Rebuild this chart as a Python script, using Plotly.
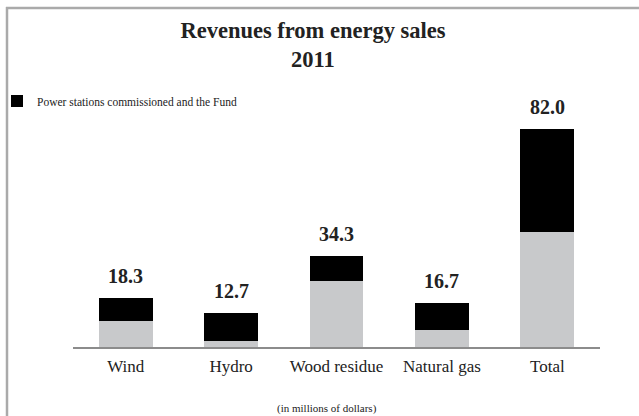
import plotly.graph_objects as go

categories = ["Wind", "Hydro", "Wood residue", "Natural gas", "Total"]
other_part = [9.8, 2.2, 24.7, 6.2, 43.3]
stations_fund = [8.5, 10.5, 9.6, 10.5, 38.7]
totals = [18.3, 12.7, 34.3, 16.7, 82.0]
total_labels = ["18.3", "12.7", "34.3", "16.7", "82.0"]

W, H = 639, 416
L, R, T, B = 73, 39, 100, 69
PW, PH = W - L - R, H - T - B
YMAX = 92.7

def px_x(p):
    return (p - L) / PW

def px_y(p):
    return (H - B - p) / PH

SERIF = "Liberation Serif"

fig = go.Figure()
fig.add_trace(go.Bar(
    x=categories, y=other_part, marker=dict(color="#c8c9cb", line=dict(width=0)),
    showlegend=False, name="Other", hoverinfo="skip"))
fig.add_trace(go.Bar(
    x=categories, y=stations_fund, marker=dict(color="#000000", line=dict(width=0)),
    name="Power stations commissioned and the Fund"))

for c, t, lab in zip(categories, totals, total_labels):
    fig.add_annotation(x=c, y=t, text="<b>" + lab + "</b>", showarrow=False,
                       yanchor="bottom", yshift=9,
                       font=dict(family=SERIF, size=20, color="#222222"))

fig.add_annotation(xref="paper", yref="paper", x=px_x(327), y=px_y(408),
                   text="(in millions of dollars)", showarrow=False,
                   xanchor="center", yanchor="middle",
                   font=dict(family=SERIF, size=11, color="#222222"))

# frame lines
fig.add_shape(type="line", xref="paper", yref="paper",
              x0=px_x(6), x1=px_x(W + 5), y0=px_y(8), y1=px_y(8),
              line=dict(color="#aaaaaa", width=2.5))
fig.add_shape(type="line", xref="paper", yref="paper",
              x0=px_x(7), x1=px_x(7), y0=px_y(7), y1=px_y(H + 5),
              line=dict(color="#aaaaaa", width=2.5))

fig.update_layout(
    width=W, height=H,
    margin=dict(l=L, r=R, t=T, b=B, pad=0, autoexpand=False),
    paper_bgcolor="white", plot_bgcolor="white",
    barmode="stack", bargap=0.49,
    title=dict(text="<b>Revenues from energy sales<br>2011</b>",
               x=313 / W, xanchor="center", xref="container",
               y=1 - 38 / H, yanchor="top", yref="container",
               font=dict(family=SERIF, size=22.5, color="#222222")),
    legend=dict(x=px_x(-3), xanchor="left", y=px_y(101), yanchor="middle",
                bgcolor="rgba(0,0,0,0)", itemwidth=30,
                font=dict(family=SERIF, size=11.5, color="#222222")),
    xaxis=dict(showline=True, linecolor="#8c8c8c", linewidth=2,
               ticks="outside", ticklen=3, tickcolor="rgba(0,0,0,0)",
               tickfont=dict(family=SERIF, size=17, color="#222222"),
               showgrid=False, zeroline=False, fixedrange=True),
    yaxis=dict(range=[0, YMAX], visible=False, showgrid=False, zeroline=False,
               fixedrange=True),
    showlegend=True,
)

fig.write_html("out.html")
